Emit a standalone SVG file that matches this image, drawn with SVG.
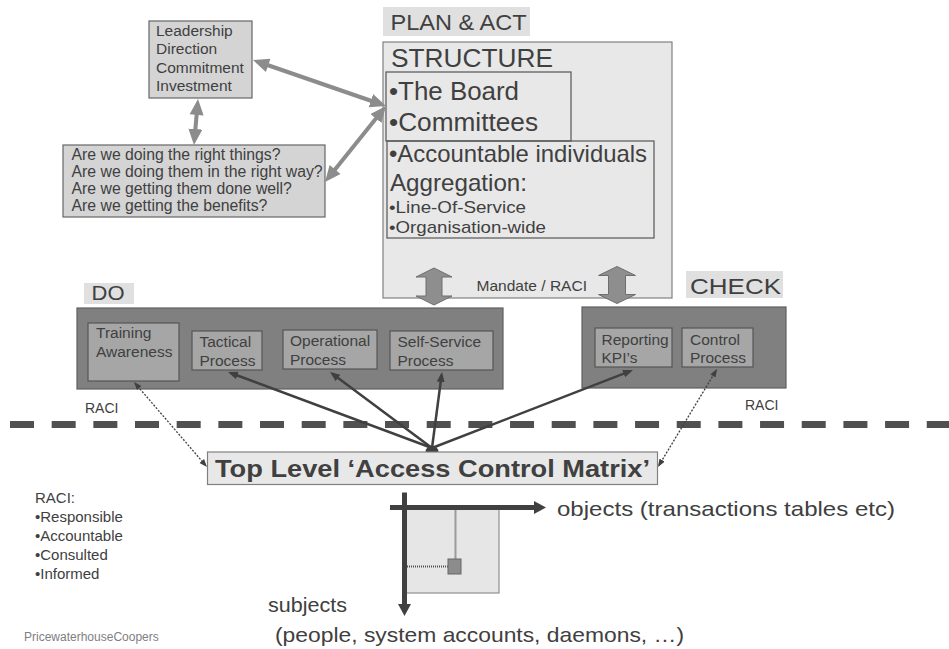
<svg xmlns="http://www.w3.org/2000/svg" width="949" height="649" viewBox="0 0 949 649">
  <defs>
    <style>
      text { font-family: "Liberation Sans", Arial, Helvetica, sans-serif; fill: #404040; }
      .tag { fill: #e0e0e0; }
      .soft { fill: #d4d4d4; stroke: #666666; stroke-width: 1.2; }
      .pale { fill: #e8e8e8; stroke: #808080; stroke-width: 1.2; }
      .frame { fill: none; stroke: #555555; stroke-width: 1.2; }
      .dark { fill: #808080; stroke: #606060; stroke-width: 1.2; }
      .inner { fill: #a6a6a6; stroke: #555555; stroke-width: 1.2; }
      .thick { fill: none; stroke: #8c8c8c; stroke-width: 4; }
      .thin { fill: none; stroke: #404040; stroke-width: 2.5; }
      .dotted { fill: none; stroke: #404040; stroke-width: 1.3; stroke-dasharray: 2 1.5; }
      .block { fill: #8e8e8e; stroke: #6e6e6e; stroke-width: 1; }
      .axis { fill: none; stroke: #404040; stroke-width: 5; }
      .grid { fill: none; stroke: #505050; stroke-width: 2; stroke-dasharray: 1 1; }
    </style>
    <marker id="thickEnd" markerUnits="userSpaceOnUse" markerWidth="18" markerHeight="16" refX="10" refY="7" orient="auto">
      <path d="M0,0 L16,7 L0,14 Z" fill="#8c8c8c"/>
    </marker>
    <marker id="thickStart" markerUnits="userSpaceOnUse" markerWidth="18" markerHeight="16" refX="6" refY="7" orient="auto">
      <path d="M16,0 L0,7 L16,14 Z" fill="#8c8c8c"/>
    </marker>
    <marker id="thinEnd" markerUnits="userSpaceOnUse" markerWidth="12" markerHeight="10" refX="7" refY="4" orient="auto">
      <path d="M0,0 L10,4 L0,8 Z" fill="#404040"/>
    </marker>
    <marker id="dotEnd" markerUnits="userSpaceOnUse" markerWidth="9" markerHeight="8" refX="6" refY="3" orient="auto">
      <path d="M0,0 L8,3 L0,6 Z" fill="#404040"/>
    </marker>
    <marker id="dotStart" markerUnits="userSpaceOnUse" markerWidth="9" markerHeight="8" refX="2" refY="3" orient="auto">
      <path d="M8,0 L0,3 L8,6 Z" fill="#404040"/>
    </marker>
  </defs>

  <rect width="949" height="649" fill="#ffffff"/>

  <!-- governance boxes -->
  <g id="leadership">
    <rect class="soft" x="149" y="21" width="103" height="77"/>
    <g font-size="15.5">
      <text x="156" y="35.5">Leadership</text>
      <text x="156" y="54">Direction</text>
      <text x="156" y="72.5">Commitment</text>
      <text x="156" y="91">Investment</text>
    </g>
  </g>

  <g id="questions">
    <rect class="soft" x="63" y="145" width="262" height="72"/>
    <g font-size="15.8">
      <text x="71.5" y="160">Are we doing the right things?</text>
      <text x="71.5" y="177">Are we doing them in the right way?</text>
      <text x="71.5" y="194">Are we getting them done well?</text>
      <text x="71.5" y="211">Are we getting the benefits?</text>
    </g>
  </g>

  <g id="plan-act">
    <rect class="tag" x="383" y="7" width="147" height="29"/>
    <text x="390.5" y="30" font-size="22" textLength="136" lengthAdjust="spacingAndGlyphs">PLAN &amp; ACT</text>
  </g>

  <g id="structure">
    <rect class="pale" x="383" y="42" width="289" height="256"/>
    <text x="391" y="67" font-size="25" textLength="162" lengthAdjust="spacingAndGlyphs">STRUCTURE</text>
    <g id="board">
      <rect class="frame" x="386" y="72" width="185" height="69"/>
      <text x="389" y="100" font-size="25" textLength="130" lengthAdjust="spacingAndGlyphs">•The Board</text>
      <text x="389" y="131" font-size="25" textLength="149" lengthAdjust="spacingAndGlyphs">•Committees</text>
    </g>
    <g id="accountable">
      <rect class="frame" x="387" y="141" width="267" height="97"/>
      <text x="389" y="162" font-size="24" textLength="258" lengthAdjust="spacingAndGlyphs">•Accountable individuals</text>
      <text x="390" y="190.5" font-size="24" textLength="137" lengthAdjust="spacingAndGlyphs">Aggregation:</text>
      <text x="389" y="213" font-size="17" textLength="137" lengthAdjust="spacingAndGlyphs">•Line-Of-Service</text>
      <text x="389" y="233" font-size="17" textLength="157" lengthAdjust="spacingAndGlyphs">•Organisation-wide</text>
    </g>
    <text x="476.5" y="291" font-size="14.5" textLength="110.5" lengthAdjust="spacingAndGlyphs">Mandate / RACI</text>
  </g>

  <!-- DO -->
  <g id="do">
    <rect class="tag" x="84" y="283" width="50" height="21"/>
    <text x="91.5" y="300" font-size="21" textLength="33" lengthAdjust="spacingAndGlyphs">DO</text>
    <rect class="dark" x="77" y="308" width="426" height="81"/>
    <g id="training" font-size="15.5">
      <rect class="inner" x="88" y="323" width="91" height="58"/>
      <text x="96" y="338">Training</text>
      <text x="96" y="357">Awareness</text>
    </g>
    <g id="tactical" font-size="15.5">
      <rect class="inner" x="192" y="331" width="70" height="39"/>
      <text x="199.5" y="347">Tactical</text>
      <text x="199.5" y="366">Process</text>
    </g>
    <g id="operational" font-size="15.5">
      <rect class="inner" x="283" y="330" width="94" height="39"/>
      <text x="290" y="346">Operational</text>
      <text x="290" y="364.5">Process</text>
    </g>
    <g id="self-service" font-size="15.5">
      <rect class="inner" x="390" y="331" width="103" height="39"/>
      <text x="397.5" y="347">Self-Service</text>
      <text x="397.5" y="366">Process</text>
    </g>
  </g>

  <!-- CHECK -->
  <g id="check">
    <rect class="tag" x="686" y="271" width="97" height="27"/>
    <text x="690" y="294" font-size="22" textLength="91" lengthAdjust="spacingAndGlyphs">CHECK</text>
    <rect class="dark" x="582" y="307" width="204" height="81"/>
    <g id="reporting" font-size="15.5">
      <rect class="inner" x="595" y="328" width="77" height="39"/>
      <text x="601.5" y="345">Reporting</text>
      <text x="601.5" y="362.5">KPI’s</text>
    </g>
    <g id="control" font-size="15.5">
      <rect class="inner" x="682" y="328" width="71" height="39"/>
      <text x="690" y="345">Control</text>
      <text x="690" y="362.5">Process</text>
    </g>
  </g>

  <g id="raci-labels" font-size="14">
    <text x="85" y="413">RACI</text>
    <text x="745" y="409.5">RACI</text>
  </g>

  <!-- boundary -->
  <line x1="0" y1="424.5" x2="949" y2="424.5" stroke="#505050" stroke-width="7" stroke-dasharray="24 17.67" stroke-dashoffset="31.67"/>

  <!-- connectors -->
  <g id="connectors">
    <line class="thick" x1="258.7" y1="62" x2="380.3" y2="104" marker-start="url(#thickStart)" marker-end="url(#thickEnd)"/>
    <line class="thick" x1="328.8" y1="177.3" x2="382.2" y2="110.7" marker-start="url(#thickStart)" marker-end="url(#thickEnd)"/>
    <line class="thick" x1="197.5" y1="105" x2="194.5" y2="139" marker-start="url(#thickStart)" marker-end="url(#thickEnd)"/>

    <polygon class="block" points="434,268 452,277 442,277 442,296 452,296 434,305 416,296 426,296 426,277 416,277"/>
    <polygon class="block" points="617,266.5 635.5,275.5 625.5,275.5 625.5,294.5 635.5,294.5 617,303.5 598.5,294.5 608.5,294.5 608.5,275.5 598.5,275.5"/>

    <line class="thin" x1="432" y1="448" x2="230.8" y2="373" marker-end="url(#thinEnd)"/>
    <line class="thin" x1="432" y1="448" x2="332.4" y2="373.8" marker-end="url(#thinEnd)"/>
    <line class="thin" x1="432" y1="448" x2="441.6" y2="375" marker-end="url(#thinEnd)"/>
    <line class="thin" x1="432" y1="448" x2="630.2" y2="371.1" marker-end="url(#thinEnd)"/>
    <circle cx="432" cy="452" r="6.5" fill="#404040"/>

    <line class="dotted" x1="135.3" y1="383.5" x2="205.7" y2="465.5" marker-start="url(#dotStart)" marker-end="url(#dotEnd)"/>
    <line class="dotted" x1="716" y1="370.7" x2="659" y2="465.3" marker-start="url(#dotStart)" marker-end="url(#dotEnd)"/>
  </g>

  <g id="access-control-matrix">
    <rect class="pale" x="207.5" y="452" width="450" height="32.5" stroke-width="1.5"/>
    <text x="215" y="476.5" font-size="24" font-weight="bold" textLength="435" lengthAdjust="spacingAndGlyphs">Top Level ‘Access Control Matrix’</text>
  </g>

  <!-- subject / object matrix -->
  <g id="matrix">
    <rect x="405" y="507.5" width="94" height="85.5" fill="#e6e6e6" stroke="#909090" stroke-width="1.2"/>
    <line class="grid" x1="455.5" y1="507.5" x2="455.5" y2="559"/>
    <line class="grid" x1="405" y1="566.5" x2="448" y2="566.5"/>
    <rect x="448" y="559" width="13" height="15" fill="#8c8c8c" stroke="#666666" stroke-width="1"/>
    <line class="axis" x1="390" y1="507.5" x2="535" y2="507.5"/>
    <polygon points="534,501 546,507.5 534,514" fill="#404040"/>
    <line class="axis" x1="404.5" y1="492.5" x2="404.5" y2="605"/>
    <polygon points="398,604 404.5,616 411,604" fill="#404040"/>
    <text x="557" y="516" font-size="21" textLength="338" lengthAdjust="spacingAndGlyphs">objects (transactions tables etc)</text>
    <text x="268" y="612" font-size="21" textLength="79" lengthAdjust="spacingAndGlyphs">subjects</text>
    <text x="275" y="642" font-size="21" textLength="409" lengthAdjust="spacingAndGlyphs">(people, system accounts, daemons, …)</text>
  </g>

  <g id="raci-legend" font-size="15">
    <text x="35" y="503">RACI:</text>
    <text x="35" y="521.5">•Responsible</text>
    <text x="35" y="540.5">•Accountable</text>
    <text x="35" y="559.5">•Consulted</text>
    <text x="35" y="578.5">•Informed</text>
  </g>

  <text id="footer" x="24" y="641" font-size="12" style="fill:#808080">PricewaterhouseCoopers</text>
</svg>
